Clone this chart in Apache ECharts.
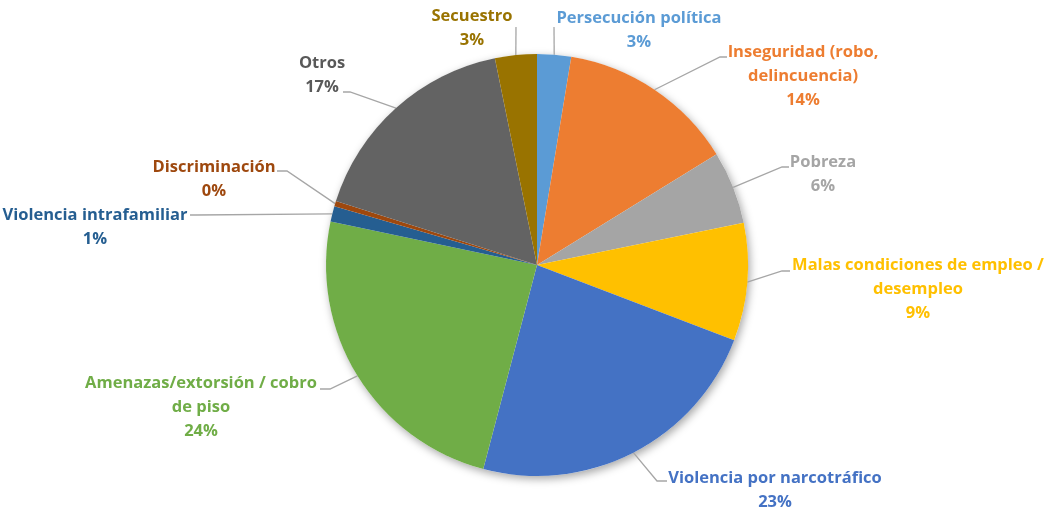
<!DOCTYPE html>
<html>
<head>
<meta charset="utf-8">
<script src="https://cdn.jsdelivr.net/npm/echarts@6/dist/echarts.min.js"></script>
<style>
  html, body { margin: 0; padding: 0; background: #ffffff; }
  #chart { width: 1046px; height: 513px; }
</style>
</head>
<body>
<div id="chart"></div>
<script>
// Categories (clockwise from 12 o'clock) and their shares in percent
var categories = [
  'Persecución política',
  'Inseguridad (robo,\ndelincuencia)',
  'Pobreza',
  'Malas condiciones de empleo /\ndesempleo',
  'Violencia por narcotráfico',
  'Amenazas/extorsión / cobro\nde piso',
  'Violencia intrafamiliar',
  'Discriminación',
  'Otros',
  'Secuestro'
];
var shares = [2.6, 13.6, 5.6, 9.0, 23.3, 24.2, 1.2, 0.4, 16.9, 3.2];

// Slice / label colours
var colors = [
  '#5B9BD5', '#ED7D31', '#A5A5A5', '#FFC000', '#4472C4',
  '#70AD47', '#255E91', '#9E480E', '#636363', '#997300'
];
var labelColors = [
  '#5B9BD5', '#ED7D31', '#A5A5A5', '#FFC000', '#4472C4',
  '#70AD47', '#255E91', '#9E480E', '#595959', '#997300'
];

// Label placement: centre of each text block, then leader-line elbow and end
var labelCenters = [
  [639, 30], [803, 76], [823, 174], [918, 289], [775, 490],
  [201, 407], [95, 227], [214, 179], [322, 75], [472, 28]
];
var leaderElbows = [
  [554, 27], [720, 57], [782, 167], [782, 271], [657, 481],
  [330, 389], [196, 215], [287, 171], [350, 92], [516, 27]
];
var leaderEnds = [
  [554, 27], [727, 57], [789, 167], [790, 271], [667, 481],
  [320, 389], [190, 215], [277, 171], [343, 92], [516, 27]
];

var PIE_CENTER = [537, 265];
var PIE_RADIUS = 211;

var chart = echarts.init(document.getElementById('chart'), null, { renderer: 'canvas' });

var pieData = categories.map(function (name, i) {
  return {
    name: name,
    value: shares[i],
    itemStyle: { color: colors[i] },
    label: { color: labelColors[i] }
  };
});

chart.setOption({
  backgroundColor: '#ffffff',
  animation: false,
  series: [
    {
      // soft drop shadow under the whole disc
      type: 'pie',
      silent: true,
      z: 1,
      center: PIE_CENTER,
      radius: PIE_RADIUS,
      label: { show: false },
      labelLine: { show: false },
      itemStyle: {
        color: '#ffffff',
        shadowBlur: 8,
        shadowColor: 'rgba(0,0,0,0.35)',
        shadowOffsetX: 2,
        shadowOffsetY: 3
      },
      data: [{ value: 1, name: '' }]
    },
    {
      type: 'pie',
      z: 2,
      center: PIE_CENTER,
      radius: PIE_RADIUS,
      startAngle: 90,
      clockwise: true,
      avoidLabelOverlap: false,
      itemStyle: { borderWidth: 0 },
      label: {
        show: true,
        position: 'outside',
        fontFamily: 'Open Sans',
        fontWeight: 'bold',
        fontSize: 16.5,
        lineHeight: 24,
        align: 'center',
        formatter: function (p) {
          return p.name + '\n' + Math.round(p.percent) + '%';
        }
      },
      labelLine: {
        show: true,
        length: 10,
        length2: 10,
        lineStyle: { color: '#A6A6A6', width: 1.3 }
      },
      labelLayout: function (params) {
        var i = params.dataIndex;
        var start = params.labelLinePoints ? params.labelLinePoints[0] : leaderElbows[i];
        return {
          x: labelCenters[i][0],
          y: labelCenters[i][1],
          align: 'center',
          verticalAlign: 'middle',
          labelLinePoints: [
            [start[0], start[1]],
            leaderElbows[i].slice(),
            leaderEnds[i].slice()
          ]
        };
      },
      emphasis: { disabled: true },
      data: pieData
    }
  ]
});
</script>
</body>
</html>
